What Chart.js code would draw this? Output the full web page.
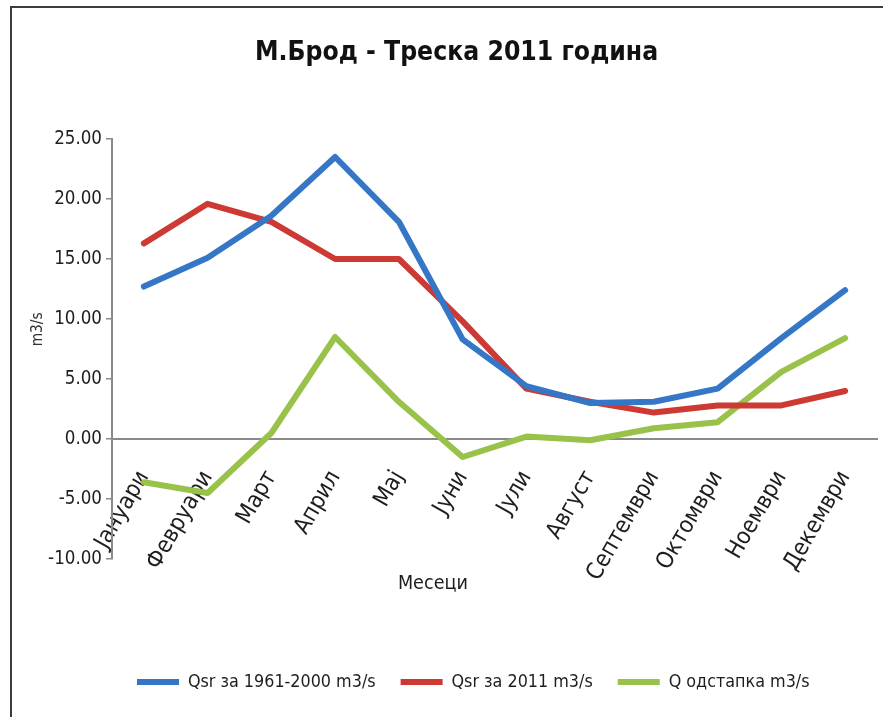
<!DOCTYPE html>
<html>
<head>
<meta charset="utf-8">
<script src="https://cdn.jsdelivr.net/npm/chart.js@4.4.1/dist/chart.umd.min.js"></script>
<style>
  html, body { margin: 0; padding: 0; background: #ffffff; }
  #wrap { position: relative; width: 883px; height: 717px; overflow: hidden; }
  #c { position: absolute; left: 0; top: 0; }
  #frame { position: absolute; left: 10px; top: 6px; width: 900px; height: 740px;
           border-left: 2px solid #3c3c3c; border-top: 2px solid #3c3c3c; pointer-events: none; }
</style>
</head>
<body>
<div id="wrap">
  <canvas id="c" width="883" height="717"></canvas>
  <div id="frame"></div>
</div>
<script>
// Monthly discharge, river Treska at M.Brod
const months = ['Јануари', 'Февруари', 'Март', 'Април', 'Мај', 'Јуни', 'Јули', 'Август', 'Септември', 'Октомври', 'Ноември', 'Декември'];
const qsrLongTerm = [12.7, 15.1, 18.6, 23.5, 18.1, 8.3, 4.4, 3.0, 3.1, 4.2, 8.4, 12.4];
const qsr2011     = [16.3, 19.6, 18.1, 15.0, 15.0, 9.8, 4.2, 3.1, 2.2, 2.8, 2.8, 4.0];
const qDeviation  = [-3.6, -4.5, 0.5, 8.5, 3.1, -1.5, 0.2, -0.1, 0.9, 1.4, 5.6, 8.4];
const seriesNames = ['Qsr за 1961-2000 m3/s', 'Qsr за 2011 m3/s', 'Q одстапка m3/s'];
const yTicks = { min: -10, max: 25, step: 5 };
const chartTitle = 'М.Брод - Треска 2011 година';
const xTitle = 'Месеци';
const yTitle = 'm3/s';

// ---- narrow type: use a condensed face when one is installed ----
const probe = document.createElement('canvas').getContext('2d');
function textWidth(font, text) { probe.font = font; return probe.measureText(text).width; }
const sample = 'Септември 25.00 Qsr';
const notoCondensed = textWidth('condensed 100px "Noto Sans"', sample) < 0.93 * textWidth('100px "Noto Sans"', sample);
const FAMILY = notoCondensed ? '"Noto Sans"' : '"DejaVu Sans Condensed", "DejaVu Sans", sans-serif';
const STRETCH = notoCondensed ? 'condensed' : '';
const weight = w => [w, STRETCH].filter(Boolean).join(' ');
function font(size, bold) { return { family: FAMILY, size, weight: weight(bold ? 'bold' : 'normal') }; }
// font size that gives a string the wanted pixel width
function sizeFor(text, width, bold) {
  const w = textWidth(`${weight(bold ? 'bold' : 'normal')} 100px ${FAMILY}`, text);
  return Math.round(1000 * width / w) / 10;
}
const NBSP = '\u00a0';
function nbspWidth(size) { return textWidth(`${weight('normal')} ${size}px ${FAMILY}`, NBSP); }

const titleSize  = sizeFor(chartTitle, 404, true);
const tickSize   = sizeFor('25.00', 48);
const monthSize  = sizeFor('Септември', 122);
const legendSize = sizeFor(seriesNames.join(''), 470);
const xTitleSize = sizeFor(xTitle, 70);
const yTitleSize = sizeFor(yTitle, 34);

// plot box: left 112, right 877, top 139 (25.00), bottom 559 (-10.00)
const PLOT_TOP = 139, PLOT_BOTTOM = 559, PLOT_LEFT = 112, PLOT_RIGHT = 877;
const TITLE_Y = 53, LEGEND_Y = 682, LEGEND_GAP = 25, X_TITLE_LIFT = 42;
const legendTitleBlock = (LEGEND_Y - PLOT_BOTTOM) - LEGEND_GAP - legendSize / 2;
const legendHeight = legendTitleBlock + legendSize + LEGEND_GAP + 10;
const xTitleShift = Math.round(2 * ((PLOT_LEFT + PLOT_RIGHT) / 2 - 432) / nbspWidth(xTitleSize));
const yTitleShift = Math.round(2 * ((PLOT_TOP + PLOT_BOTTOM) / 2 - 330) / nbspWidth(yTitleSize));

const AXIS_GREY = '#8a8a8a';
const TEXT = '#1e1e1e';

function lineSet(label, data, color) {
  return {
    label, data,
    borderColor: color, backgroundColor: color,
    borderWidth: 6, pointRadius: 0, pointHoverRadius: 0,
    tension: 0, borderCapStyle: 'round', borderJoinStyle: 'round',
    pointStyle: 'line'
  };
}

new Chart(document.getElementById('c'), {
  type: 'line',
  data: {
    labels: months,
    datasets: [
      lineSet(seriesNames[0], qsrLongTerm, '#3676c6'),
      lineSet(seriesNames[1], qsr2011, '#cc3a33'),
      lineSet(seriesNames[2], qDeviation, '#99c24a')
    ]
  },
  options: {
    responsive: false,
    animation: false,
    layout: { padding: { left: 36, right: 883 - PLOT_RIGHT, top: 0,
                         bottom: Math.max(0, 717 - PLOT_BOTTOM - legendHeight) } },
    plugins: {
      title: {
        display: true,
        text: chartTitle,
        color: '#111111',
        font: font(titleSize, true),
        padding: { top: TITLE_Y - 0.6 * titleSize, bottom: PLOT_TOP - TITLE_Y - 0.6 * titleSize }
      },
      legend: {
        position: 'bottom',
        fullSize: false,
        align: 'start',
        title: { display: true, text: ' ', font: { size: 10 }, padding: { top: 0, bottom: legendTitleBlock - 12 } },
        labels: {
          usePointStyle: true,
          pointStyle: 'line',
          pointStyleWidth: 42,
          color: TEXT,
          font: font(legendSize),
          padding: LEGEND_GAP
        }
      },
      tooltip: { enabled: false }
    },
    scales: {
      x: {
        type: 'category',
        offset: true,
        position: { y: 0 },
        afterFit(scale) { scale.paddingLeft = 0; scale.paddingRight = 0; },
        grid: { display: true, drawOnChartArea: false, drawTicks: false },
        border: { display: true, color: AXIS_GREY, width: 2 },
        ticks: {
          autoSkip: false, minRotation: 60, maxRotation: 60,
          padding: Math.round(31 - 0.15 * monthSize), color: TEXT,
          font: font(monthSize)
        },
        title: {
          display: true,
          text: xTitle + NBSP.repeat(Math.max(0, xTitleShift)),
          color: TEXT,
          font: font(xTitleSize),
          padding: { top: 2 - X_TITLE_LIFT, bottom: 0 }
        }
      },
      y: {
        min: yTicks.min, max: yTicks.max,
        afterFit(scale) { scale.width = PLOT_LEFT - 36; },
        grid: { display: true, drawOnChartArea: false, drawTicks: true, tickLength: 6, color: AXIS_GREY, lineWidth: 1.5 },
        border: { display: true, color: AXIS_GREY, width: 2 },
        ticks: {
          stepSize: yTicks.step, padding: 4, color: TEXT,
          font: font(tickSize),
          callback: v => Number(v).toFixed(2)
        },
        title: {
          display: true, text: NBSP.repeat(Math.max(0, yTitleShift)) + yTitle, color: '#333333',
          font: font(yTitleSize),
          padding: { top: 2 - 0.6 * yTitleSize, bottom: 0 }
        }
      }
    }
  }
});
</script>
</body>
</html>
